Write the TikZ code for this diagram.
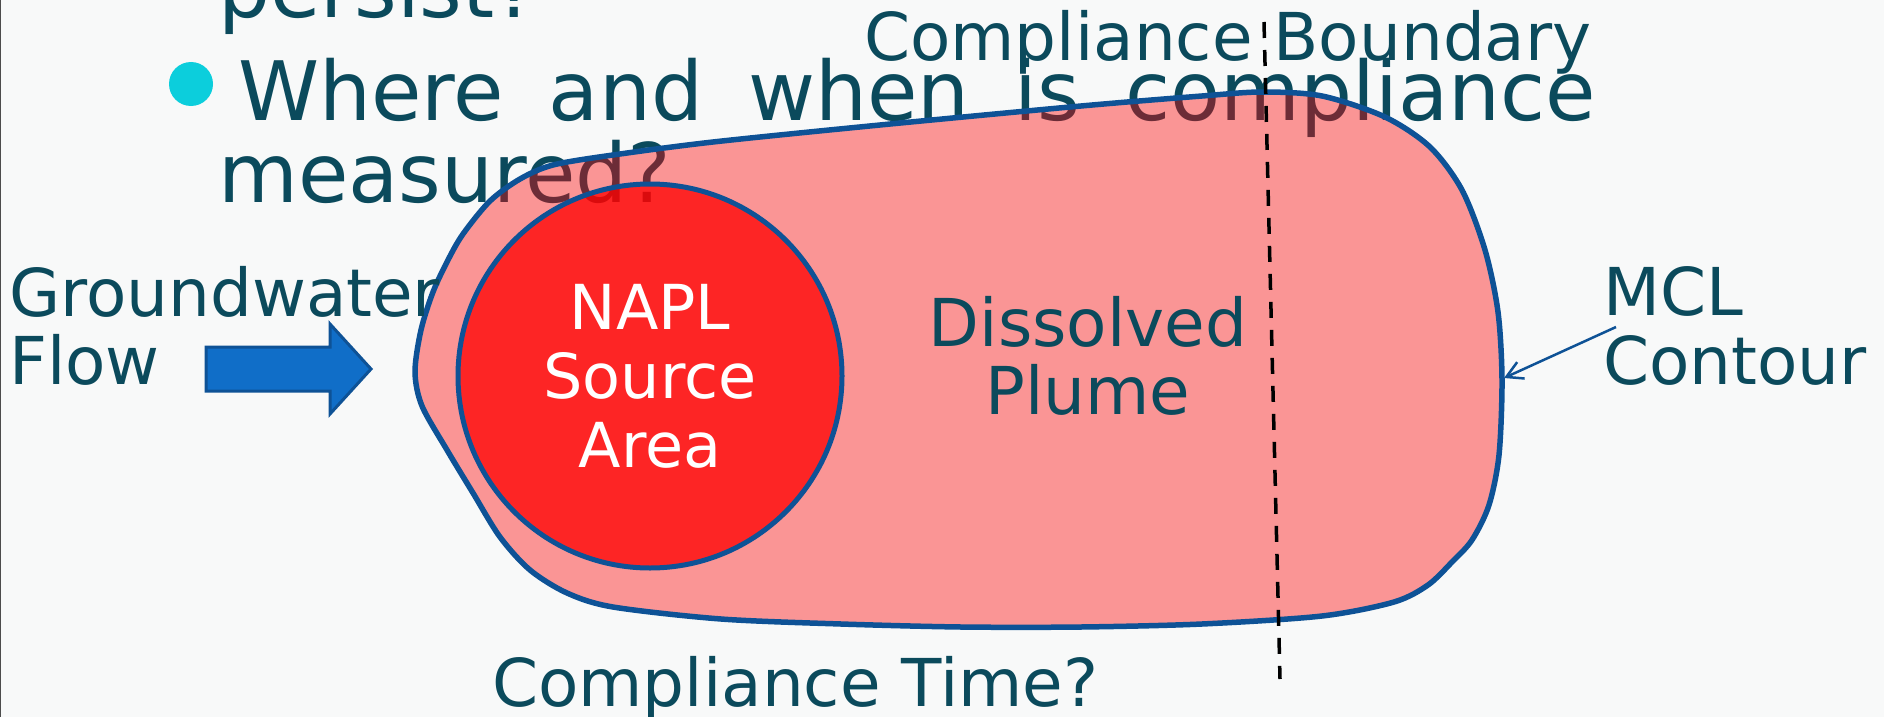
\documentclass[tikz,border=0pt]{standalone}
\usepackage{fontspec}
\setmainfont{DejaVu Sans}
\usetikzlibrary{arrows.meta}
\definecolor{slideteal}{RGB}{11,74,92}
\definecolor{edgeblue}{RGB}{14,82,150}
\definecolor{flowblue}{RGB}{16,110,200}
\definecolor{bulletcyan}{RGB}{12,206,220}
\definecolor{slidebg}{RGB}{248,249,249}

\begin{document}
\begin{tikzpicture}[x=1pt,y=-1pt,
    big/.style={anchor=base west,inner sep=0,text=slideteal,font=\fontsize{82}{96}\selectfont},
    lbl/.style={inner sep=0,text=slideteal,font=\fontsize{66}{68}\selectfont},
    outline/.style={draw=edgeblue,line width=5.5pt}]
  \useasboundingbox[fill=slidebg] (0,0) rectangle (1884,717);
  \draw[black!70,line width=2pt] (0,0) -- (0,717);

  % slide text behind the plume
  \fill[bulletcyan] (191,84) circle (22);
  \node[big] (persist) at (218,18) {persist?};
  \node[big] (where) at (238,120) {\spaceskip=45pt Where and when is compliance};
  \node[big] (measured) at (218,202) {measured?};

  % dissolved plume
  \draw[outline,fill=red,fill opacity=0.4] plot[smooth cycle,tension=0.5] coordinates {
      (415,372) (421,330) (433,292) (448,260) (463,234) (490,201) (520,179) (553,165)
      (613,155) (713,142) (880,125) (1081,106) (1202,96) (1262,92) (1322,96) (1385,117)
      (1430,147) (1462,190) (1485,250) (1498,312) (1502,380) (1499,455) (1489,505)
      (1472,540) (1452,562) (1428,585) (1394,602) (1322,616) (1202,624) (1081,627)
      (961,627) (841,624) (721,619) (613,607) (567,593) (530,570) (500,537) (473,493)
      (447,450) (422,406)};

  % source area
  \node[circle,outline,line width=5pt,fill=red,fill opacity=0.75,text opacity=1,text=white,
        minimum size=384pt,align=center,font=\fontsize{62}{69}\selectfont] (napl) at (650,376) {NAPL\\Source\\Area};

  % groundwater flow
  \draw[draw=edgeblue,line width=3pt,fill=flowblue] (206,347) -- (330,347) -- (330,324) -- (371,369)
      -- (330,414) -- (330,391) -- (206,391) -- cycle;
  \node[lbl,anchor=base west] (gw) at (9,316) {Groundwater};
  \node[lbl,anchor=base west] (flow) at (9,384) {Flow};

  % compliance boundary and time
  \node[lbl,anchor=base west] (bound) at (864,60) {Compliance Boundary};
  \draw[black,line width=3.5pt,dash pattern=on 16pt off 12pt] (1264,22) -- (1280,679);
  \node[lbl,anchor=base west] (ctime) at (492,706) {Compliance Time?};

  \node[lbl,anchor=base] (diss) at (1088,346) {Dissolved};
  \node[lbl,anchor=base] (plume) at (1088,414) {Plume};

  % MCL contour
  \node[lbl,anchor=base west] (mcl) at (1603,315) {MCL};
  \node[lbl,anchor=base west] (contour) at (1603,384) {Contour};
  \coordinate (mcltail) at (1616,327);
  \coordinate (mcltip) at (1504,378);
  \draw[edgeblue,line width=2.5pt,-{Straight Barb[length=16pt,width=18pt]}] (mcltail) -- (mcltip);
\end{tikzpicture}
\end{document}
